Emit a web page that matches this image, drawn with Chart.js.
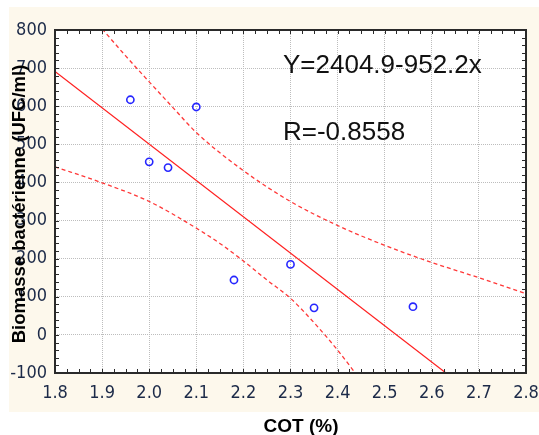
<!DOCTYPE html>
<html>
<head>
<meta charset="utf-8">
<script src="https://cdn.jsdelivr.net/npm/chart.js@4/dist/chart.umd.min.js"></script>
<style>
  body { margin: 0; background: #fff; }
  canvas { display: block; }
</style>
</head>
<body>
<canvas id="chart" width="539" height="435"></canvas>
<script>
// Data
const xTicks = [1.8, 1.9, 2.0, 2.1, 2.2, 2.3, 2.4, 2.5, 2.6, 2.7, 2.8];
const yTicks = [-100, 0, 100, 200, 300, 400, 500, 600, 700, 800];

const cotValues = [1.96, 2.10, 2.00, 2.04, 2.18, 2.30, 2.35, 2.56];
const biomassValues = [617, 598, 454, 439, 144, 185, 71, 74];

const fitX = [1.8, 2.63];
const fitY = [691, -100];

const upperX = [1.9, 1.95, 2.0, 2.05, 2.1, 2.2, 2.3, 2.4, 2.5, 2.6, 2.7, 2.8];
const upperY = [803, 732, 664, 597, 531, 431, 350, 287, 235, 190, 150, 108];

const lowerX = [1.8, 1.9, 2.0, 2.1, 2.15, 2.2, 2.25, 2.3, 2.35, 2.4, 2.44];
const lowerY = [441, 399, 350, 280, 240, 194, 144, 96, 32, -40, -104];

const equationText = "Y=2404.9-952.2x";
const rText = "R=-0.8558";
const xTitle = "COT (%)";
const yTitle = "Biomasse bactérienne (UFC/ml)";

const tickFont = { family: "'Liberation Sans Narrow', 'Arial Narrow', 'DejaVu Sans Condensed', sans-serif", size: 18 };
const tickColor = "#1c2a48";

function toPoints(xs, ys){ return xs.map((x, i) => ({ x: x, y: ys[i] })); }

// background, frame, inward minor ticks and texts
const decorPlugin = {
  id: "decor",
  beforeDraw(chart){
    const ctx = chart.ctx, a = chart.chartArea;
    ctx.save();
    ctx.fillStyle = "#fdf8ec";
    ctx.fillRect(9, 7, 530, 405);
    ctx.fillStyle = "#fff";
    ctx.fillRect(a.left, a.top, a.right - a.left, a.bottom - a.top);
    ctx.restore();
  },
  afterDraw(chart){
    const ctx = chart.ctx, a = chart.chartArea;
    const xs = chart.scales.x, ys = chart.scales.y;
    ctx.save();
    ctx.strokeStyle = "#2a2a2a";
    ctx.lineWidth = 1;
    ctx.beginPath();
    for(let v = 1.8; v <= 2.8001; v += 0.025){
      const px = Math.round(xs.getPixelForValue(v)) + 0.5;
      ctx.moveTo(px, a.bottom); ctx.lineTo(px, a.bottom - 4);
      ctx.moveTo(px, a.top); ctx.lineTo(px, a.top + 4);
    }
    for(let v = -100; v <= 800; v += 20){
      const py = Math.round(ys.getPixelForValue(v)) + 0.5;
      ctx.moveTo(a.left, py); ctx.lineTo(a.left + 4, py);
      ctx.moveTo(a.right, py); ctx.lineTo(a.right - 4, py);
    }
    ctx.stroke();
    ctx.lineWidth = 2;
    ctx.strokeRect(a.left, a.top, a.right - a.left, a.bottom - a.top);

    ctx.fillStyle = "#111";
    ctx.font = "26px 'Liberation Sans', Arial, sans-serif";
    ctx.textAlign = "left";
    ctx.textBaseline = "alphabetic";
    ctx.fillText(equationText, 283, 73);
    ctx.fillText(rText, 283, 140);

    ctx.fillStyle = "#000";
    ctx.font = "bold 19px 'Liberation Sans', Arial, sans-serif";
    ctx.textAlign = "center";
    ctx.fillText(xTitle, 301, 432);

    ctx.font = "bold 18.5px 'Liberation Sans', Arial, sans-serif";
    ctx.translate(25, 204);
    ctx.rotate(-Math.PI / 2);
    ctx.fillText(yTitle, 0, 0);
    ctx.restore();
  }
};

const dashStyle = { borderColor: "#ff3838", borderWidth: 1.3, borderDash: [4, 3], pointRadius: 0, showLine: true,
                    fill: false, clip: 0, cubicInterpolationMode: "monotone" };

new Chart(document.getElementById("chart"), {
  type: "scatter",
  data: {
    datasets: [
      { data: toPoints(cotValues, biomassValues), pointStyle: "circle", pointRadius: 3.6, pointBorderWidth: 1.6,
        pointBorderColor: "#2626ff", pointBackgroundColor: "rgba(0,0,0,0)", showLine: false },
      { data: toPoints(fitX, fitY), borderColor: "#ff2020", borderWidth: 1.2, pointRadius: 0, showLine: true, clip: 0 },
      Object.assign({ data: toPoints(upperX, upperY) }, dashStyle),
      Object.assign({ data: toPoints(lowerX, lowerY) }, dashStyle)
    ]
  },
  options: {
    responsive: false,
    animation: false,
    layout: { padding: { left: 0, top: 30, right: 13, bottom: 0 } },
    plugins: { legend: { display: false }, tooltip: { enabled: false } },
    scales: {
      x: {
        type: "linear", min: 1.8, max: 2.8,
        afterBuildTicks: (s) => { s.ticks = xTicks.map(v => ({ value: v })); },
        afterFit: (s) => { s.height = 62; s.paddingLeft = 0; s.paddingRight = 0; },
        ticks: { font: tickFont, color: tickColor, padding: 10, maxRotation: 0, autoSkip: false,
                 callback: (v) => Number(v).toFixed(1) },
        grid: { color: "#bdbdbd", lineWidth: 1, drawTicks: false },
        border: { display: false, dash: [1, 1] }
      },
      y: {
        type: "linear", min: -100, max: 800,
        afterBuildTicks: (s) => { s.ticks = yTicks.map(v => ({ value: v })); },
        afterFit: (s) => { s.width = 55; s.paddingTop = 0; s.paddingBottom = 0; },
        ticks: { font: tickFont, color: tickColor, padding: 8, autoSkip: false,
                 callback: (v) => String(v) },
        grid: { color: "#bdbdbd", lineWidth: 1, drawTicks: false },
        border: { display: false, dash: [1, 1] }
      }
    }
  },
  plugins: [decorPlugin]
});
</script>
</body>
</html>
